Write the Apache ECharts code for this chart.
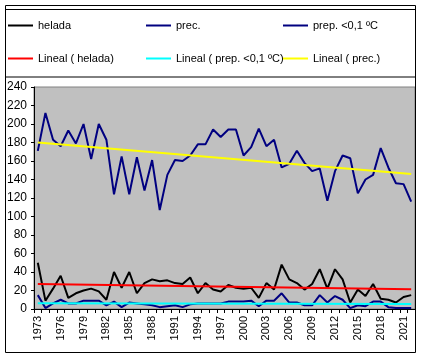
<!DOCTYPE html>
<html><head><meta charset="utf-8">
<script src="https://cdn.jsdelivr.net/npm/echarts@6/dist/echarts.min.js"></script>
<style>html,body{margin:0;padding:0;background:#fff}#c{width:421px;height:358px}</style>
</head><body><div id="c"></div>
<script>
const years = [];
for (let y = 1973; y <= 2022; y++) years.push(String(y));

const helada = [50,9,22,36,12,17,20,22,19,10, 40,23,40,17,28,32,30,31,28,27, 34,17,28,21,19,26,23,22,23,12, 28,21,48,32,28,21,27,43,22,43, 32,7,21,14,27,11,10,7,13,15];
const prec = [171,212,183,176,193,179,200,162,200,183, 124,165,124,164,128,161,107,145,161,160, 166,178,178,194,186,194,194,166,175,195, 176,183,153,157,171,158,149,152,117,149, 166,163,125,140,145,174,153,136,135,116];
const prep01 = [15,1,6,10,6,6,9,9,9,4, 8,2,7,6,5,4,2,3,4,2, 5,6,6,6,6,8,8,8,9,3, 9,9,17,7,7,4,4,15,7,14, 10,1,4,3,8,8,2,1,1,1];

// trend lines (start, end)
const trendHelada = [27, 21.3];
const trendPrep01 = [6.1, 5.4];
const trendPrec = [180, 146];

const names = ['helada', 'prec.', 'prep. <0,1 ºC', 'Lineal ( helada)', 'Lineal ( prep. <0,1 ºC)', 'Lineal ( prec.)'];
const colors = ['#000000', '#000080', '#000080', '#FF0000', '#00FFFF', '#FFFF00'];

const FONT = '"Liberation Sans", Arial, sans-serif';
const last = years.length - 1;

function lineSeries(name, data, color) {
  return {
    name: name, type: 'line', data: data, symbol: 'none', showSymbol: false,
    itemStyle: { color: color }, lineStyle: { color: color, width: 2 },
    emphasis: { disabled: true }, animation: false
  };
}
function trend(name, t, color) {
  return lineSeries(name, [[0, t[0]], [last, t[1]]], color);
}

const colLeft = [8, 146, 283];
const rowTop = [20, 53];
const legends = names.map(function (n, i) {
  return {
    left: colLeft[i % 3], top: rowTop[Math.floor(i / 3)], orient: 'horizontal',
    icon: 'rect', itemWidth: 25, itemHeight: 2, itemGap: 0, padding: 0,
    textStyle: { fontFamily: FONT, fontSize: 11, color: '#000' },
    selectedMode: false, data: [n]
  };
});

const chart = echarts.init(document.getElementById('c'), null, { renderer: 'canvas' });
chart.setOption({
  animation: false,
  backgroundColor: '#ffffff',
  legend: legends,
  grid: {
    left: 34, top: 87, right: 6, bottom: 49, show: true,
    backgroundColor: '#C0C0C0', borderColor: '#808080', borderWidth: 1, containLabel: false
  },
  xAxis: {
    type: 'category', data: years, boundaryGap: true,
    axisLine: { show: true, lineStyle: { color: '#000', width: 1 } },
    axisTick: { show: true, interval: 0, alignWithLabel: false, length: 4, lineStyle: { color: '#000' } },
    axisLabel: { interval: 2, rotate: 90, margin: 7, fontFamily: FONT, fontSize: 11, color: '#000' },
    splitLine: { show: false }
  },
  yAxis: {
    type: 'value', min: 0, max: 240, interval: 20,
    axisLine: { show: true, lineStyle: { color: '#000', width: 1 } },
    axisTick: { show: true, length: 3, lineStyle: { color: '#000' } },
    axisLabel: { margin: 7, fontFamily: FONT, fontSize: 12, color: '#000' },
    splitLine: { show: false }
  },
  series: [
    lineSeries(names[0], helada, colors[0]),
    lineSeries(names[1], prec, colors[1]),
    lineSeries(names[2], prep01, colors[2]),
    trend(names[3], trendHelada, colors[3]),
    trend(names[4], trendPrep01, colors[4]),
    trend(names[5], trendPrec, colors[5])
  ],
  graphic: [
    { type: 'rect', shape: { x: 5.5, y: 5.5, width: 410, height: 347 }, style: { fill: 'none', stroke: '#000', lineWidth: 1 }, silent: true, z: 100 },
    { type: 'rect', shape: { x: 5.5, y: 9.5, width: 410, height: 67.5 }, style: { fill: 'none', stroke: '#000', lineWidth: 1 }, silent: true, z: 100 }
  ]
});
</script>
</body></html>
